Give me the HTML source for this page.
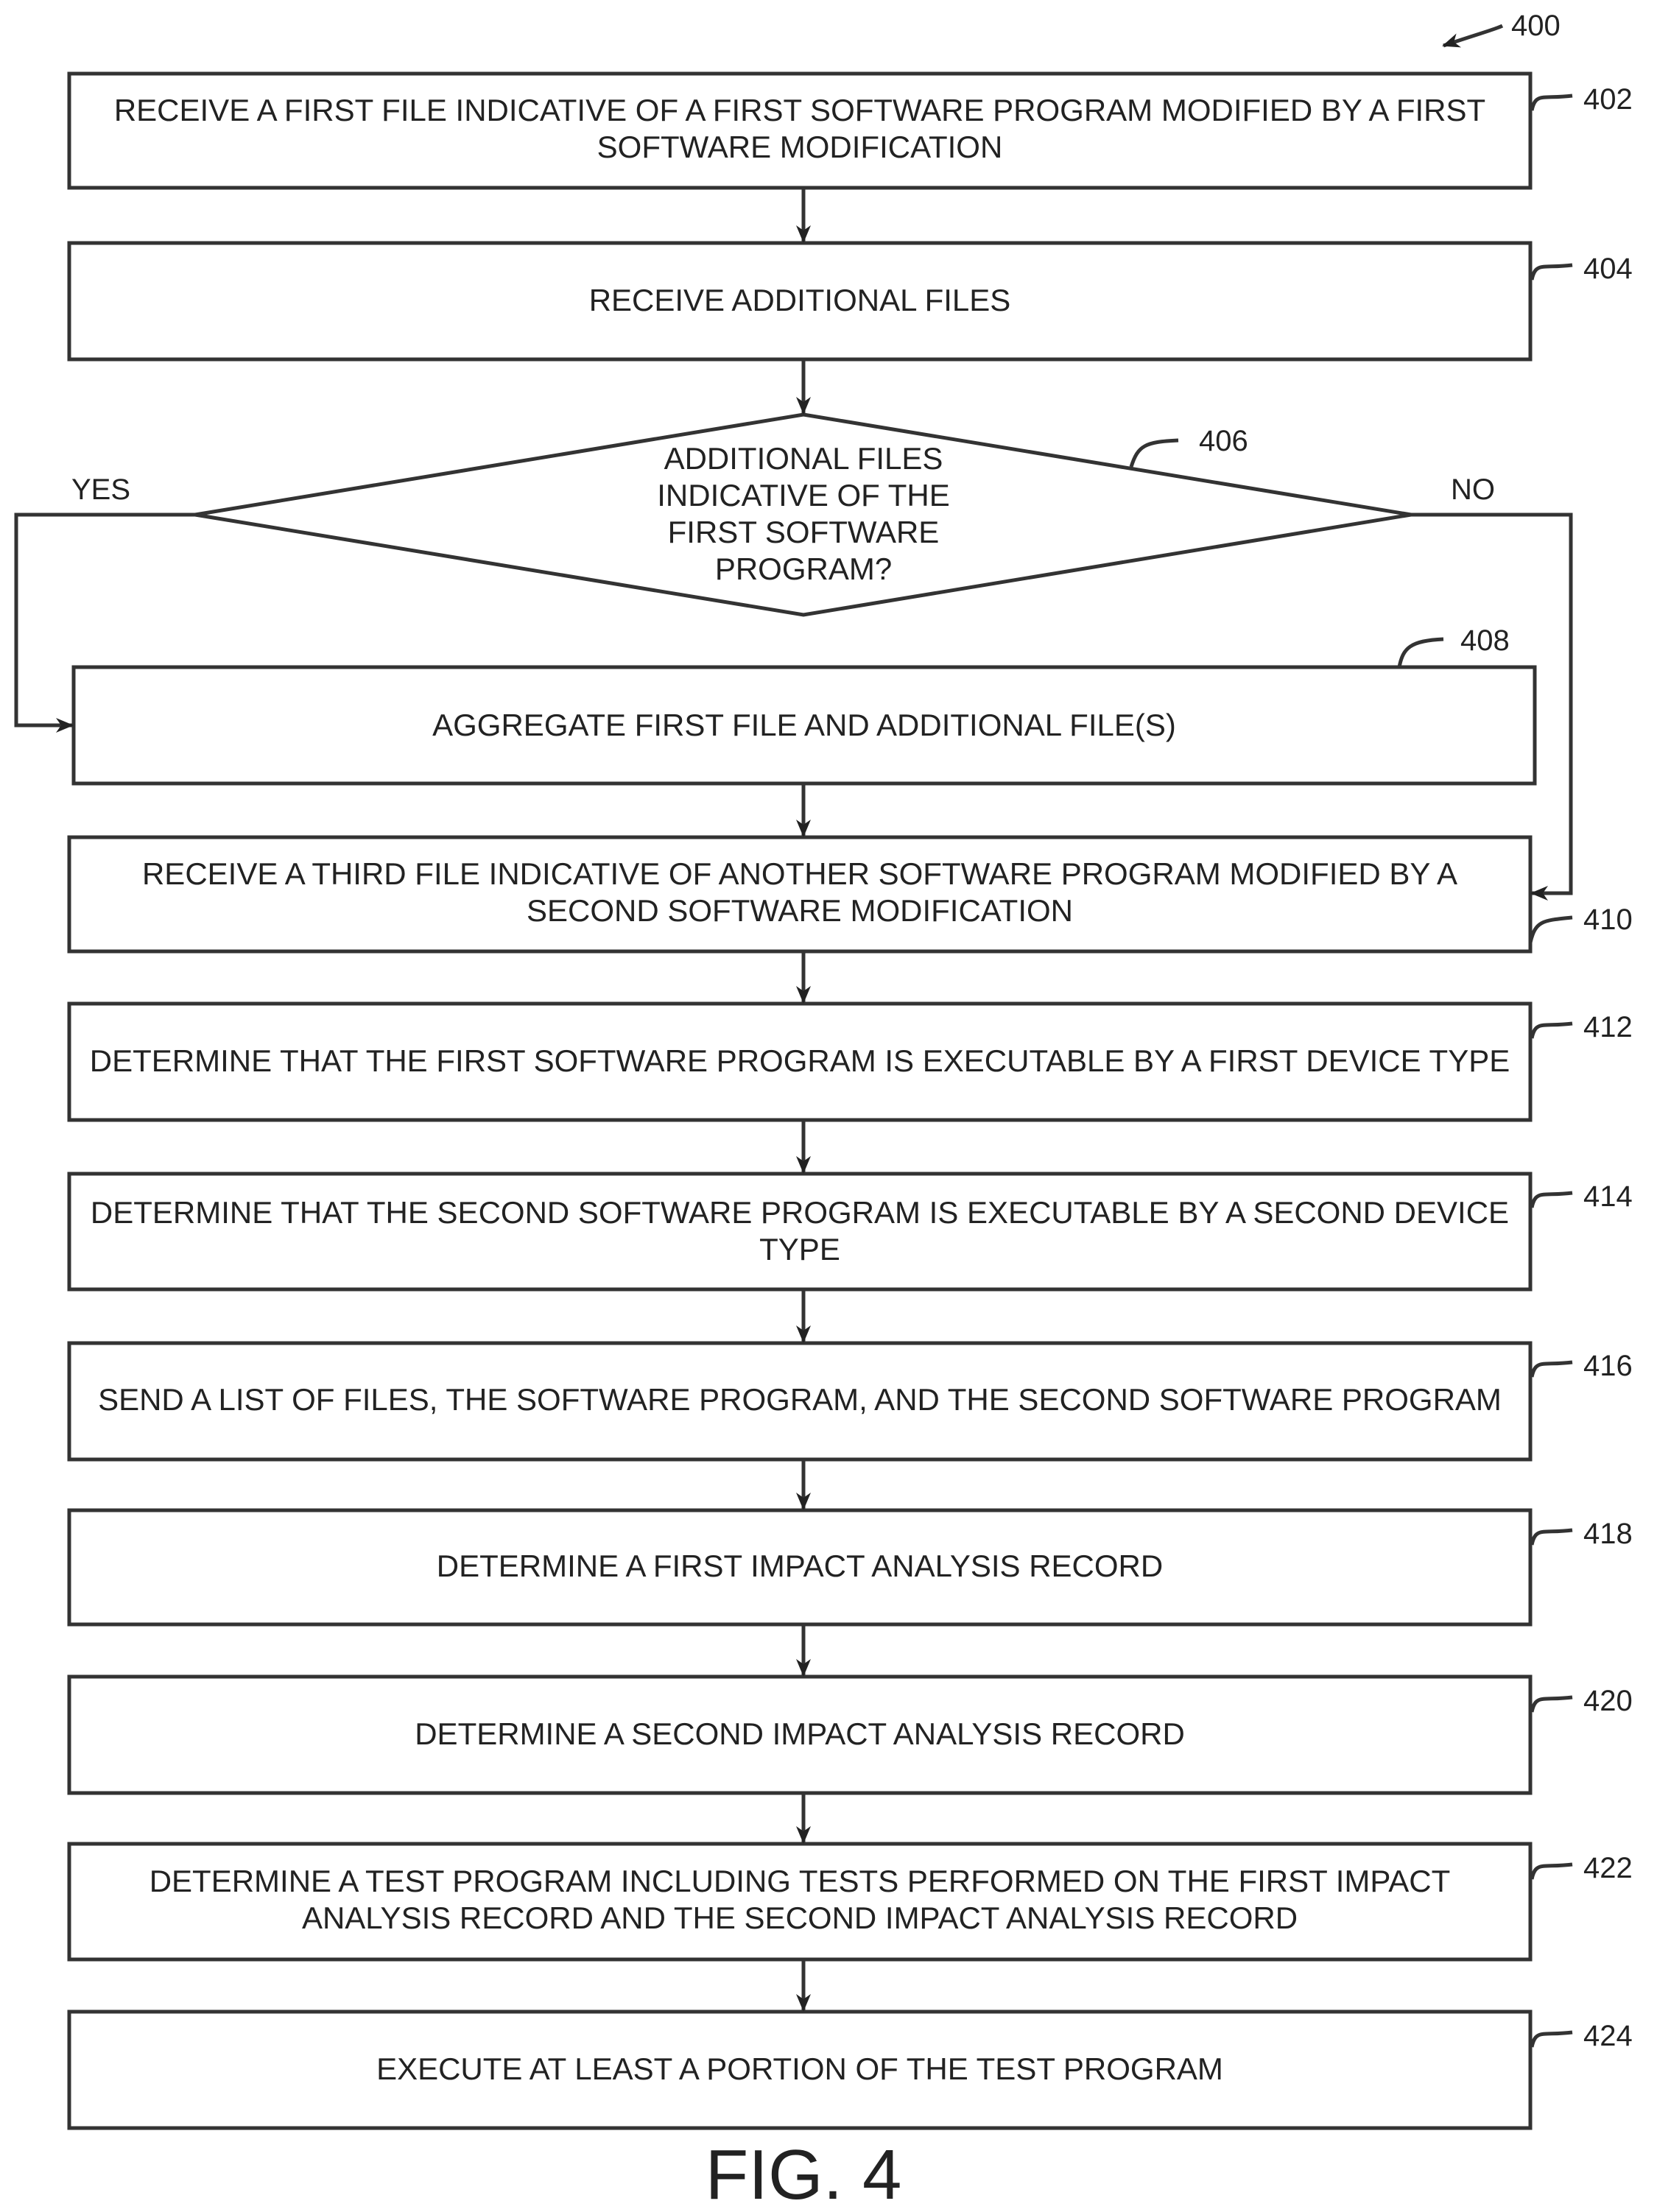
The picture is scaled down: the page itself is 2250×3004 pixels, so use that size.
<!DOCTYPE html>
<html><head><style>
html,body{margin:0;padding:0;background:#fff;}
svg{display:block;}
text{font-family:"Liberation Sans",sans-serif;fill:#222;}
</style></head><body>
<svg width="2250" height="3004" viewBox="0 0 2250 3004" xmlns="http://www.w3.org/2000/svg">
<defs>
<marker id="ah" markerWidth="24" markerHeight="20" refX="22" refY="10" orient="auto" markerUnits="userSpaceOnUse" viewBox="0 0 24 20">
<path d="M0,0 L24,10 L0,20 L7,10 z" fill="#222"/>
</marker>
</defs>
<g fill="none" stroke="#333" stroke-width="5">
<rect x="94" y="100" width="1984" height="155"/>
<rect x="94" y="330" width="1984" height="158"/>
<polygon points="1091,563 1916,699 1091,835 265,699"/>
<rect x="100" y="906" width="1984" height="158"/>
<rect x="94" y="1137" width="1984" height="155"/>
<rect x="94" y="1363" width="1984" height="158"/>
<rect x="94" y="1594" width="1984" height="157"/>
<rect x="94" y="1824" width="1984" height="158"/>
<rect x="94" y="2051" width="1984" height="155"/>
<rect x="94" y="2277" width="1984" height="158"/>
<rect x="94" y="2504" width="1984" height="157"/>
<rect x="94" y="2732" width="1984" height="158"/>
</g>
<g stroke="#333" stroke-width="5" fill="none">
<path d="M1091,255 V328" marker-end="url(#ah)"/>
<path d="M1091,488 V561" marker-end="url(#ah)"/>
<path d="M1091,1064 V1135" marker-end="url(#ah)"/>
<path d="M1091,1292 V1361" marker-end="url(#ah)"/>
<path d="M1091,1521 V1592" marker-end="url(#ah)"/>
<path d="M1091,1751 V1822" marker-end="url(#ah)"/>
<path d="M1091,1982 V2049" marker-end="url(#ah)"/>
<path d="M1091,2206 V2275" marker-end="url(#ah)"/>
<path d="M1091,2435 V2502" marker-end="url(#ah)"/>
<path d="M1091,2661 V2730" marker-end="url(#ah)"/>
<path d="M265,699 H22 V985 H98" marker-end="url(#ah)"/>
<path d="M1916,699 H2133 V1213 H2080" marker-end="url(#ah)"/>
<path d="M2080,150 C2085,125 2095,135 2135,130"/>
<path d="M2080,380 C2085,355 2095,365 2135,360"/>
<path d="M1536,634 C1545,605 1555,600 1600,598"/>
<path d="M1900,906 C1905,880 1915,870 1960,868"/>
<path d="M2078,1280 C2085,1250 2095,1250 2135,1246"/>
<path d="M2080,1410 C2085,1385 2095,1395 2135,1390"/>
<path d="M2080,1640 C2085,1615 2095,1625 2135,1620"/>
<path d="M2080,1870 C2085,1845 2095,1855 2135,1850"/>
<path d="M2080,2098 C2085,2073 2095,2083 2135,2078"/>
<path d="M2080,2325 C2085,2300 2095,2310 2135,2305"/>
<path d="M2080,2552 C2085,2527 2095,2537 2135,2532"/>
<path d="M2080,2780 C2085,2755 2095,2765 2135,2760"/>
<path d="M2040,35 C2030,40 2010,45 1960,62" marker-end="url(#ah)"/>
</g>
<g font-size="42" text-anchor="middle">
<text x="1086" y="164">RECEIVE A FIRST FILE INDICATIVE OF A FIRST SOFTWARE PROGRAM MODIFIED BY A FIRST</text>
<text x="1086" y="214">SOFTWARE MODIFICATION</text>
<text x="1086" y="422">RECEIVE ADDITIONAL FILES</text>
<text x="1091" y="637">ADDITIONAL FILES</text>
<text x="1091" y="687">INDICATIVE OF THE</text>
<text x="1091" y="737">FIRST SOFTWARE</text>
<text x="1091" y="787">PROGRAM?</text>
<text x="1092" y="999">AGGREGATE FIRST FILE AND ADDITIONAL FILE(S)</text>
<text x="1086" y="1201">RECEIVE A THIRD FILE INDICATIVE OF ANOTHER SOFTWARE PROGRAM MODIFIED BY A</text>
<text x="1086" y="1251">SECOND SOFTWARE MODIFICATION</text>
<text x="1086" y="1455">DETERMINE THAT THE FIRST SOFTWARE PROGRAM IS EXECUTABLE BY A FIRST DEVICE TYPE</text>
<text x="1086" y="1661">DETERMINE THAT THE SECOND SOFTWARE PROGRAM IS EXECUTABLE BY A SECOND DEVICE</text>
<text x="1086" y="1711">TYPE</text>
<text x="1086" y="1915">SEND A LIST OF FILES, THE SOFTWARE PROGRAM, AND THE SECOND SOFTWARE PROGRAM</text>
<text x="1086" y="2141">DETERMINE A FIRST IMPACT ANALYSIS RECORD</text>
<text x="1086" y="2369">DETERMINE A SECOND IMPACT ANALYSIS RECORD</text>
<text x="1086" y="2569">DETERMINE A TEST PROGRAM INCLUDING TESTS PERFORMED ON THE FIRST IMPACT</text>
<text x="1086" y="2619">ANALYSIS RECORD AND THE SECOND IMPACT ANALYSIS RECORD</text>
<text x="1086" y="2824">EXECUTE AT LEAST A PORTION OF THE TEST PROGRAM</text>
</g>
<g font-size="40">
<text x="97" y="678">YES</text>
<text x="1970" y="678">NO</text>
<text x="2052" y="48">400</text>
<text x="2150" y="148">402</text>
<text x="2150" y="378">404</text>
<text x="1628" y="612">406</text>
<text x="1983" y="883">408</text>
<text x="2150" y="1262">410</text>
<text x="2150" y="1408">412</text>
<text x="2150" y="1638">414</text>
<text x="2150" y="1868">416</text>
<text x="2150" y="2096">418</text>
<text x="2150" y="2323">420</text>
<text x="2150" y="2550">422</text>
<text x="2150" y="2778">424</text>
</g>
<text x="1091" y="2986" font-size="96" text-anchor="middle">FIG. 4</text>
</svg>
</body></html>
